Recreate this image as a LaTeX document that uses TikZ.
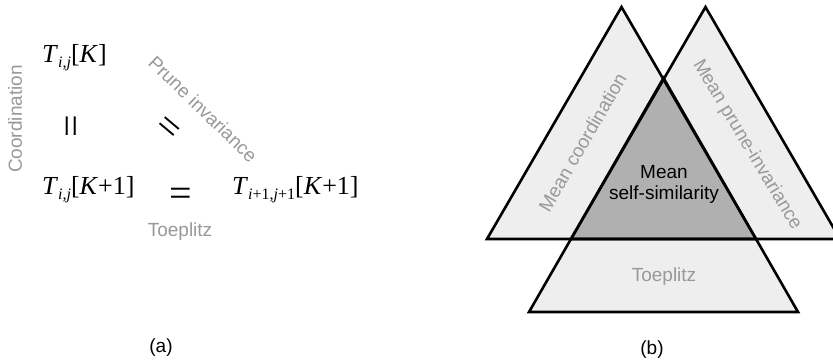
\documentclass[tikz,border=0pt]{standalone}
\usepackage{fontspec}
\setmainfont{Liberation Sans}
\newfontfamily\tms{Liberation Serif}
\definecolor{lbl}{HTML}{999999}
\definecolor{lite}{HTML}{EEEEEE}
\definecolor{dark}{HTML}{B0B0B0}
\newcommand\subx[1]{\raisebox{-5pt}{\fontsize{16}{16}\selectfont #1}}
\begin{document}
\begin{tikzpicture}[x=1pt,y=-1pt,
  mathtxt/.style={inner sep=0pt,font=\tms\fontsize{26}{26}\selectfont},
  eqtxt/.style={inner sep=0pt,font=\tms\fontsize{40}{40}\selectfont},
  graytxt/.style={inner sep=0pt,text=lbl,font=\fontsize{19}{19}\selectfont},
  capt/.style={inner sep=0pt,font=\fontsize{19}{19}\selectfont},
  tri/.style={line width=2.6pt,line join=miter}]
\useasboundingbox[fill=white] (0,0) rectangle (833,364);
% ---------- (a) ----------
\node[mathtxt,anchor=base west] (t1) at (42,62) {\textit{T}\subx{\textit{i,j}}[\textit{K}]};
\node[mathtxt,anchor=base west] (t2) at (42,194) {\textit{T}\subx{\textit{i,j}}[\textit{K}+1]};
\node[mathtxt,anchor=base west] (t3) at (232,194) {\textit{T}\subx{\textit{i}+1,\textit{j}+1}[\textit{K}+1]};
\node[eqtxt] (eqh) at (180.5,197.5) {=};
\node[eqtxt,rotate=90] (eqv) at (75.5,126) {=};
\node[eqtxt,rotate=-40] (eqd) at (167.5,130) {=};
\node[graytxt,rotate=90] (lc) at (15,119) {Coordination};
\node[graytxt,rotate=-44] (lp) at (203,109) {Prune invariance};
\node[graytxt] (lt) at (180,232) {Toeplitz};
\node[capt] (ca) at (161,348) {(a)};
% ---------- (b) ----------
\coordinate (a1) at (487,239); \coordinate (b1) at (621.5,7); \coordinate (c1) at (756,239);
\coordinate (a2) at (571,239); \coordinate (b2) at (705.5,7); \coordinate (c2) at (840,239);
\coordinate (a3) at (529,312); \coordinate (b3) at (663.5,78); \coordinate (c3) at (798,312);
\fill[lite] (a1) -- (b1) -- (c1) -- cycle;
\fill[lite] (a2) -- (b2) -- (c2) -- cycle;
\fill[lite] (a3) -- (b3) -- (c3) -- cycle;
\fill[dark] (a2) -- (b3) -- (c1) -- cycle;
\draw[tri] (a1) -- (b1) -- (c1) -- cycle;
\draw[tri] (a2) -- (b2) -- (c2) -- cycle;
\draw[tri] (a3) -- (b3) -- (c3) -- cycle;
\node[graytxt,rotate=60] (mc) at (582.5,142.5) {Mean coordination};
\node[graytxt,rotate=-59] (mp) at (747,145) {Mean prune-invariance};
\node[graytxt] (mt) at (664,277) {Toeplitz};
\node[capt,align=center] (ms) at (664,184) {Mean\\[2pt]self-similarity};
\node[capt] (cb) at (652,350) {(b)};
\end{tikzpicture}
\end{document}
